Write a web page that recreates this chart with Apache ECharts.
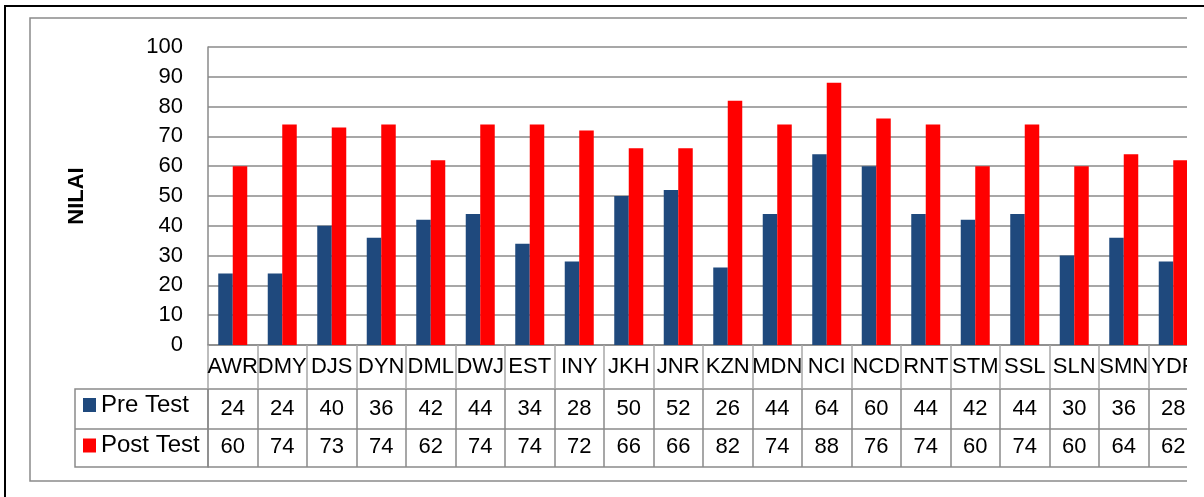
<!DOCTYPE html>
<html>
<head>
<meta charset="utf-8">
<script src="https://cdn.jsdelivr.net/npm/echarts@6/dist/echarts.min.js"></script>
<style>
  html, body { margin: 0; padding: 0; background: #fff; width: 1204px; height: 497px; overflow: hidden; }
  #frame { position: absolute; left: 4px; top: 5px; width: 1400px; height: 700px;
           border-left: 2px solid #000; border-top: 2px solid #000; box-sizing: border-box; }
  #chart { position: absolute; left: 0; top: 0; width: 1187px; height: 497px; }
</style>
</head>
<body>
<div id="frame"></div>
<div id="chart"></div>
<script>
// Student scores per participant code
const categories = ['AWR', 'DMY', 'DJS', 'DYN', 'DML', 'DWJ', 'EST', 'INY', 'JKH', 'JNR',
                    'KZN', 'MDN', 'NCI', 'NCD', 'RNT', 'STM', 'SSL', 'SLN', 'SMN', 'YDF'];
const preTest  = [24, 24, 40, 36, 42, 44, 34, 28, 50, 52, 26, 44, 64, 60, 44, 42, 44, 30, 36, 28];
const postTest = [60, 74, 73, 74, 62, 74, 74, 72, 66, 66, 82, 74, 88, 76, 74, 60, 74, 60, 64, 62];
const seriesNames = ['Pre Test', 'Post Test'];
const yMin = 0, yMax = 100, yStep = 10;
const yTitle = 'NILAI';

// layout
const FONT = "'Liberation Sans', Arial, sans-serif";
const GRID_LEFT = 208, GRID_TOP = 47, PLOT_H = 298, CAT_W = 49.5;
const ROW_NAMES = 44, ROW_PRE = 84, ROW_POST = 122;   // offsets of table rows below the plot
const LEGEND_LEFT = 75;
const TABLE_LINE = '#8a8a8a';
const colors = ['#1F497D', '#FF0000'];

const zeroY = GRID_TOP + PLOT_H;

function tableAxis(data, offset, tickLen, color, margin) {
  return {
    type: 'category',
    data: data,
    position: 'bottom',
    offset: offset,
    axisLine: { show: true, lineStyle: { color: TABLE_LINE, width: 1.5 } },
    axisTick: { show: tickLen > 0, interval: 0, length: tickLen, lineStyle: { color: color, width: 1.5 } },
    axisLabel: { show: data.length > 0 && tickLen > 0, interval: 0, margin: margin,
                 color: '#000', fontSize: 22, fontFamily: FONT },
    splitLine: { show: false }
  };
}

const chart = echarts.init(document.getElementById('chart'), null, { renderer: 'canvas' });

chart.setOption({
  animation: false,
  backgroundColor: 'transparent',
  textStyle: { fontFamily: FONT },
  color: colors,
  legend: {
    data: seriesNames,
    orient: 'vertical',
    left: 83,
    top: zeroY + ROW_NAMES + 4,
    padding: 0,
    itemWidth: 13,
    itemHeight: 14,
    itemGap: 16.5,
    icon: 'rect',
    textStyle: { color: '#000', fontSize: 24, fontFamily: FONT },
    selectedMode: false
  },
  grid: {
    left: GRID_LEFT,
    top: GRID_TOP,
    width: CAT_W * categories.length,
    height: PLOT_H,
    containLabel: false,
    outerBoundsMode: 'none'
  },
  xAxis: [
    tableAxis(categories, 0, ROW_NAMES, '#a8a8a8', 11),
    tableAxis(preTest.map(String), ROW_NAMES, ROW_PRE - ROW_NAMES, TABLE_LINE, 9),
    tableAxis(postTest.map(String), ROW_PRE, ROW_POST - ROW_PRE, TABLE_LINE, 7),
    tableAxis([], ROW_POST, 0, TABLE_LINE, 0)
  ],
  yAxis: {
    type: 'value',
    min: yMin,
    max: yMax,
    interval: yStep,
    name: yTitle,
    nameLocation: 'middle',
    nameGap: 120,
    nameTextStyle: { color: '#000', fontSize: 22, fontWeight: 'bold', fontFamily: FONT },
    axisLine: { show: true, lineStyle: { color: TABLE_LINE, width: 1.5 } },
    axisTick: { show: false },
    axisLabel: { color: '#000', fontSize: 22, margin: 25, fontFamily: FONT },
    splitLine: { show: true, lineStyle: { color: TABLE_LINE, width: 1.5 } }
  },
  series: [
    { name: seriesNames[0], type: 'bar', data: preTest, xAxisIndex: 0,
      barWidth: 14.5, barGap: '0%', itemStyle: { color: colors[0] } },
    { name: seriesNames[1], type: 'bar', data: postTest, xAxisIndex: 0,
      barWidth: 14.5, barGap: '0%', itemStyle: { color: colors[1] } }
  ],
  graphic: [
    // outer border of the chart area
    { type: 'rect', silent: true, z: -1,
      shape: { x: 30, y: 18, width: 1300, height: 463 },
      style: { fill: null, stroke: TABLE_LINE, lineWidth: 1.5 } },
    // borders of the series-name column of the data table
    { type: 'rect', silent: true,
      shape: { x: LEGEND_LEFT, y: zeroY + ROW_NAMES, width: GRID_LEFT - LEGEND_LEFT, height: ROW_POST - ROW_NAMES },
      style: { fill: null, stroke: TABLE_LINE, lineWidth: 1.5 } },
    { type: 'line', silent: true,
      shape: { x1: LEGEND_LEFT, y1: zeroY + ROW_PRE, x2: GRID_LEFT, y2: zeroY + ROW_PRE },
      style: { stroke: TABLE_LINE, lineWidth: 1.5 } }
  ]
});
</script>
</body>
</html>
